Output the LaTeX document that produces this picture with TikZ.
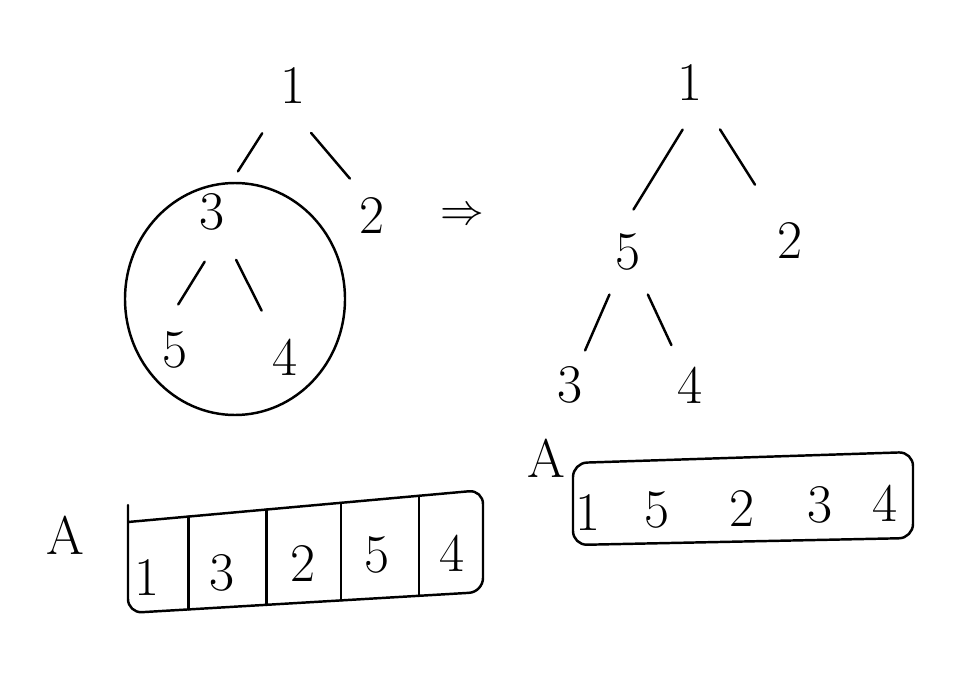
\documentclass[tikz,border=0pt]{standalone}
\usepackage{amsmath,amssymb}
\usepackage{tikz}
\usetikzlibrary{calc}

\tikzset{
  digit/.style={font=\fontsize{31}{31}\selectfont, inner sep=0pt},
  stroke/.style={line width=1.4pt, line cap=round, line join=round}
}

\begin{document}
\begin{tikzpicture}[x=0.02cm,y=-0.02cm]
			\useasboundingbox (0,0) rectangle (960,676);
			
			% left tree
			\node[digit] (l1) at (293,85) {1};
			\node[digit] (l3) at (212,212) {3};
			\node[digit] (l2) at (372,215) {2};
			\node[digit] (l5) at (175,350) {5};
			\node[digit] (l4) at (285,357) {4};
			
			\draw[stroke] ($(l1)!0.38!(l3)$) -- ($(l1)!0.68!(l3)$);
			\draw[stroke] ($(l1)!0.33!(l2)+(-8,5)$) -- ($(l1)!0.72!(l2)$);
			\draw[stroke] ($(l3)!0.36!(l5)+(6,0)$) -- ($(l3)!0.67!(l5)+(-9,0)$);
			\draw[stroke] ($(l3)!0.33!(l4)$) -- ($(l3)!0.68!(l4)$);
			
			% the subtree that gets changed
			\draw[stroke] (235,299) ellipse (110 and 116);
			
			% arrow
			\node[font=\fontsize{30}{30}\selectfont] (arr) at (462,216) {$\Rightarrow$};
			
			% right tree
			\node[digit] (r1) at (690,82) {1};
			\node[digit] (r5) at (628,252) {5};
			\node[digit] (r2) at (790,240) {2};
			\node[digit] (r3) at (570,385) {3};
			\node[digit] (r4) at (690,385) {4};
			
			\draw[stroke] ($(r1)!0.28!(r5)+(10,0)$) -- ($(r1)!0.75!(r5)+(-10,0)$);
			\draw[stroke] ($(r1)!0.30!(r2)$) -- ($(r1)!0.65!(r2)$);
			\draw[stroke] ($(r5)!0.32!(r3)$) -- ($(r5)!0.74!(r3)$);
			\draw[stroke] ($(r5)!0.32!(r4)$) -- ($(r5)!0.70!(r4)$);
			
			% array before
			\node[digit] (A1) at (65,535) {A};
			\coordinate (TL) at (128,522);
			\coordinate (TR) at (483,490);
			\coordinate (BR) at (483,592);
			\coordinate (BL) at (128,613);
			\draw[stroke, rounded corners=8pt] (TL) -- (TR) -- (BR) -- (BL) -- (128,505);
			\foreach \f in {0.17,0.39,0.60,0.82}
				\draw[stroke] ($(TL)!\f!(TR)$) -- ($(BL)!\f!(BR)$);
			\foreach \x/\y/\d in {147/577/1, 222/573/3, 303/563/2, 377/555/5, 452/553/4}
				\node[digit] at (\x,\y) {\d};
			
			% array after
			\node[digit] (A2) at (546,458) {A};
			\coordinate (tl) at (573,463);
			\coordinate (tr) at (913,452);
			\coordinate (br) at (913,538);
			\coordinate (bl) at (573,545);
			\draw[stroke, rounded corners=8pt] (tl) -- (tr) -- (br) -- (bl) -- cycle;
			\foreach \x/\y/\d in {588/512/1, 657/510/5, 742/508/2, 820/505/3, 885/503/4}
				\node[digit] at (\x,\y) {\d};
			
		\end{tikzpicture}
\end{document}
